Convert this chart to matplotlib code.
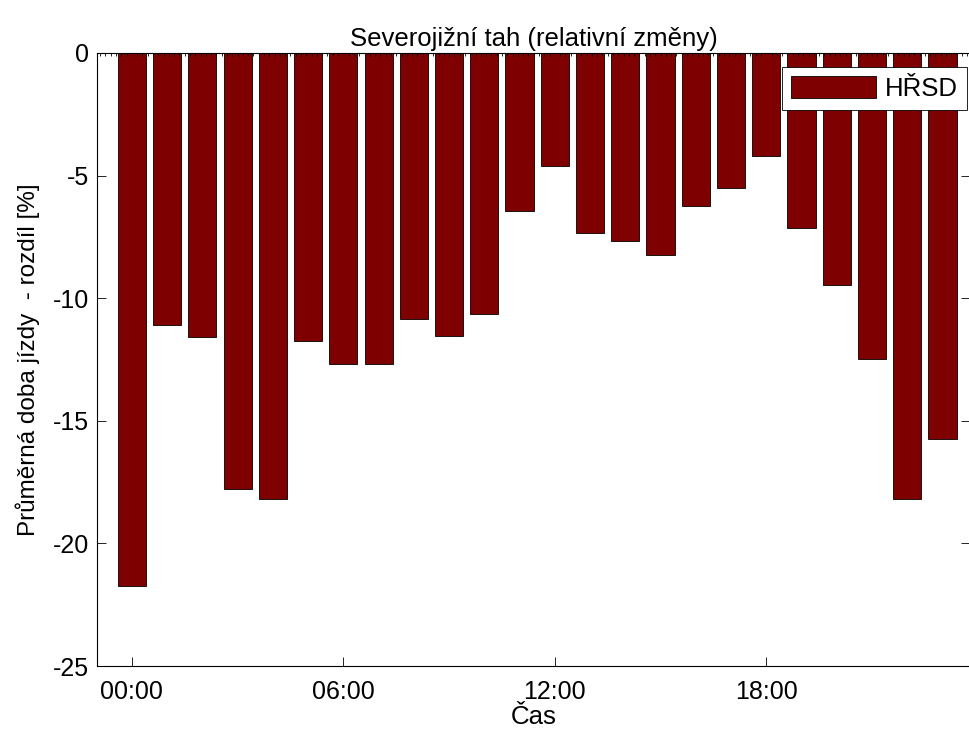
import numpy as np
import matplotlib.pyplot as plt
from matplotlib.ticker import FixedLocator, MultipleLocator

# hodiny dne a relativni zmena prumerne doby jizdy
hours = list(range(24))
hrsd = [-21.75, -11.1, -11.6, -17.8, -18.2, -11.75, -12.7, -12.7,
        -10.85, -11.55, -10.65, -6.45, -4.6, -7.35, -7.65, -8.25,
        -6.25, -5.5, -4.2, -7.15, -9.45, -12.5, -18.2, -15.75]
tick_hours = [0, 6, 12, 18]
tick_labels = ['00:00', '06:00', '12:00', '18:00']

plt.rcParams['font.family'] = ['Liberation Sans', 'DejaVu Sans']

fig = plt.figure(figsize=(9.7, 7.33), dpi=100)
ax = fig.add_axes([0.1, 0.0914, 0.9, 0.8363])

ax.bar(hours, hrsd, width=0.8, color='#7f0000', edgecolor='black',
       linewidth=0.6, label='HŘSD')

ax.set_xlim(-0.99, 23.78)
ax.set_ylim(-25, 0)
ax.xaxis.set_major_locator(FixedLocator(tick_hours))
ax.set_xticklabels(tick_labels)
ax.set_yticks([0, -5, -10, -15, -20, -25])
ax.set_yticklabels(['0', '-5', '-10', '-15', '-20', '-25'])

ax.tick_params(axis='both', which='major', direction='in', length=6.5,
               width=0.6, labelsize=18, pad=6, right=True)
ax.tick_params(axis='x', which='major', pad=10)
ax.xaxis.set_minor_locator(MultipleLocator(0.15))
ax.tick_params(axis='x', which='minor', direction='in', length=2,
               width=0.6, top=True, bottom=False)
for s in ax.spines.values():
    s.set_linewidth(0.8)
ax.spines['right'].set_visible(False)

ax.set_title('Severojižní tah (relativní změny)', fontsize=18.5, pad=5)
ax.set_xlabel('Čas', fontsize=18.5, labelpad=1)
ax.set_ylabel('Průměrná doba jízdy  - rozdíl [%]', fontsize=17.5, labelpad=9)

leg = ax.legend(loc='upper right', bbox_to_anchor=(0.9966, 0.977),
                fontsize=18.5, handlelength=3.3, handleheight=0.93,
                borderaxespad=0, fancybox=False, framealpha=1,
                edgecolor='black', borderpad=0.35, handletextpad=0.35)
leg.get_frame().set_linewidth(0.6)

fig.savefig('out.png', dpi=100)
